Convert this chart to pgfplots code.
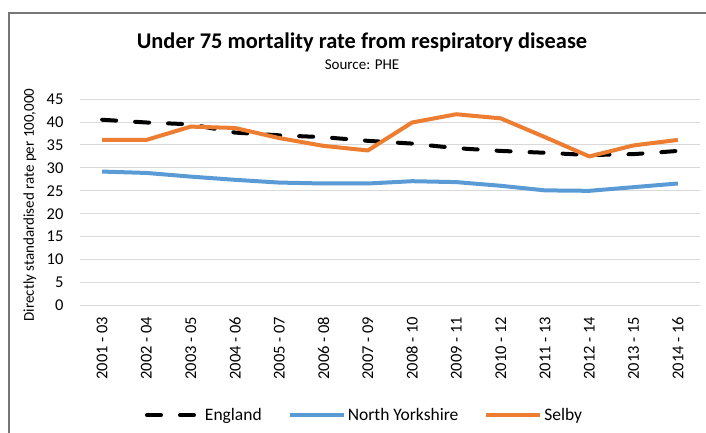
\documentclass[border=0pt]{standalone}
\usepackage{pgfplots}
\pgfplotsset{compat=1.18}
\usepackage{fontspec}
\setmainfont{Carlito}
\definecolor{eng}{HTML}{000000}
\definecolor{nyblue}{HTML}{5B9BD5}
\definecolor{selor}{HTML}{ED7D31}
\definecolor{gridc}{HTML}{D9D9D9}
\definecolor{framec}{HTML}{767676}
\begin{document}
\begin{tikzpicture}
\path[use as bounding box] (0pt,0pt) rectangle (706pt,433pt);
\draw[framec,line width=1.2pt] (9pt,0pt) -- (9pt,420pt) -- (706pt,420pt);
\node[font=\fontsize{22.4}{24}\selectfont\bfseries] at (362pt,391pt) {Under 75 mortality rate from respiratory disease};
\node[font=\fontsize{15}{17}\selectfont] at (362pt,368pt) {Source: PHE};
\node[rotate=90,font=\fontsize{15}{17}\selectfont] at (30pt,228pt) {Directly standardised rate per 100,000};
\begin{axis}[
  at={(80pt,127.5pt)}, anchor=south west,
  scale only axis, width=620pt, height=206.4pt,
  xmin=-0.5, xmax=13.5, ymin=0, ymax=45,
  ytick={0,5,...,45},
  xtick={0,...,13},
  xticklabels={2001 - 03,2002 - 04,2003 - 05,2004 - 06,2005 - 07,2006 - 08,2007 - 09,2008 - 10,2009 - 11,2010 - 12,2011 - 13,2012 - 14,2013 - 15,2014 - 16},
  ymajorgrids, grid style={gridc,line width=1pt},
  axis line style={draw=none},
  major tick length=0pt,
  /pgf/number format/assume math mode=true,
  tick label style={font=\fontsize{16.5}{18}\selectfont},
  xticklabel style={rotate=90,anchor=east,xshift=-8pt},
  yticklabel style={anchor=east,xshift=-13pt},
  legend columns=3,
  legend style={draw=none, fill=none, at={(0.459,-0.531)}, anchor=center,
    font=\fontsize{17.5}{19}\selectfont,
    nodes={inner xsep=2pt},
    /tikz/every even column/.append style={column sep=24pt}},
  legend image code/.code={\draw[#1] (0pt,0pt) -- (54pt,0pt);},
  clip=false,
]
\addplot[eng, line width=4pt, dash pattern=on 14pt off 19pt, line cap=round] coordinates {
(0,40.5)(1,39.9)(2,39.5)(3,37.7)(4,37.1)(5,36.7)(6,35.9)(7,35.3)(8,34.3)(9,33.7)(10,33.3)(11,32.8)(12,33.0)(13,33.7)};
\addlegendentry{England}
\addplot[nyblue, line width=4pt, line join=round] coordinates {
(0,29.2)(1,28.9)(2,28.1)(3,27.4)(4,26.8)(5,26.6)(6,26.6)(7,27.1)(8,26.9)(9,26.1)(10,25.1)(11,25.0)(12,25.8)(13,26.6)};
\addlegendentry{North Yorkshire}
\addplot[selor, line width=4pt, line join=round] coordinates {
(0,36.1)(1,36.1)(2,39.0)(3,38.7)(4,36.5)(5,34.8)(6,33.8)(7,39.9)(8,41.7)(9,40.8)(10,36.7)(11,32.5)(12,34.9)(13,36.1)};
\addlegendentry{Selby}
\end{axis}
\end{tikzpicture}
\end{document}
